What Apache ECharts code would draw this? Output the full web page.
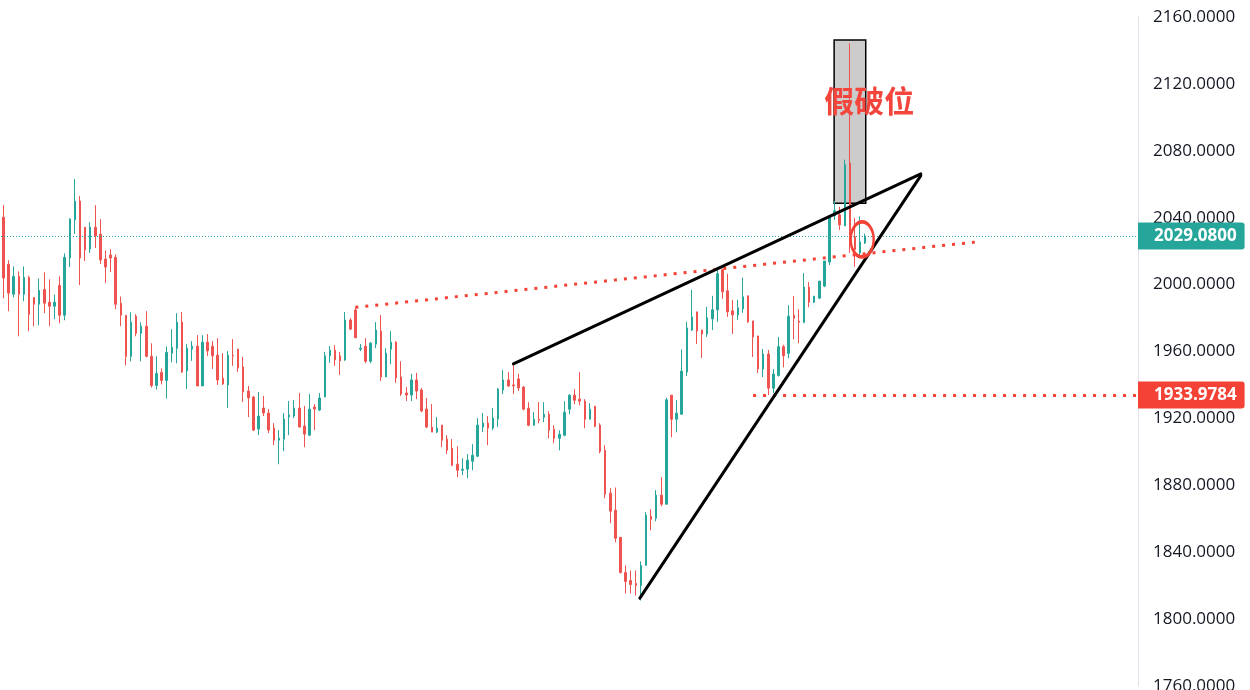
<!DOCTYPE html>
<html>
<head>
<meta charset="utf-8">
<title>XAUUSD 日线</title>
<script src="https://cdn.jsdelivr.net/npm/echarts@6/dist/echarts.min.js"></script>
<style>
  html, body { margin: 0; padding: 0; background: #ffffff; }
  #chart { width: 1250px; height: 690px; }
</style>
</head>
<body>
<div id="chart"></div>
<script>
// Daily OHLC, oldest first
const opens = [
  2040.3, 2012.1, 1994.3, 2004.9, 1994.3, 2004.3, 1992.3, 1988.3, 1997.1, 1989.5,
  1987.1, 1999.5, 1981.7, 2015.9, 2038.7, 2049.9, 2034.3, 2021.3, 2034.3, 2030.1,
  2015.3, 2017.7, 2016.3, 1988.9, 1981.7, 1957.1, 1981.1, 1970.9, 1975.1, 1957.1,
  1939.7, 1947.5, 1942.7, 1958.9, 1961.9, 1977.6, 1948.4, 1961.4, 1963.2, 1939.4,
  1965.6, 1963.2, 1957.8, 1944.0, 1940.0, 1957.8, 1961.4, 1950.8, 1936.4, 1932.8,
  1913.6, 1926.2, 1923.2, 1914.2, 1907.0, 1907.6, 1920.8, 1921.4, 1926.2, 1915.4,
  1910.0, 1926.8, 1925.0, 1932.8, 1957.4, 1960.8, 1957.4, 1955.0, 1978.8, 1984.8,
  1961.4, 1963.2, 1954.2, 1964.4, 1972.2, 1944.8, 1961.4, 1965.6, 1944.8, 1935.2,
  1934.0, 1943.0, 1937.0, 1925.6, 1914.8, 1911.8, 1916.0, 1907.6, 1902.2, 1892.6,
  1889.0, 1889.6, 1894.4, 1897.4, 1914.8, 1917.2, 1914.2, 1919.6, 1937.0, 1943.0,
  1940.0, 1943.6, 1938.7, 1926.1, 1915.9, 1919.5, 1920.7, 1922.5, 1913.5, 1908.1,
  1909.9, 1925.5, 1933.9, 1931.5, 1930.3, 1919.5, 1927.3, 1915.9, 1900.9, 1875.3,
  1865.1, 1848.9, 1827.9, 1823.1, 1821.3, 1820.1, 1832.1, 1861.5, 1860.3, 1874.1,
  1868.7, 1933.9, 1919.5, 1922.5, 1947.7, 1972.9, 1983.7, 1972.9, 1970.5, 1979.5,
  1984.9, 2008.9, 1996.3, 1984.3, 1981.9, 1985.5, 1993.3, 1978.3, 1969.3, 1949.5,
  1958.5, 1938.1, 1945.7, 1962.9, 1958.9, 1981.7, 1978.1, 1977.5, 1998.5, 1989.5,
  1991.9, 1999.1, 2013.5, 2041.1, 2041.7, 2035.1, 2072.7, 2028.6, 2018.9, 2024.9
];
const closes = [
  2003.9, 1994.9, 2004.9, 1994.3, 2004.3, 1982.3, 1988.3, 1996.5, 1988.9, 1987.1,
  1989.5, 1981.7, 2016.3, 2039.1, 2049.9, 2015.9, 2020.7, 2034.3, 2029.1, 2014.7,
  2010.5, 2015.9, 1988.3, 1981.7, 1957.1, 1977.5, 1970.9, 1975.1, 1957.1, 1939.7,
  1946.9, 1942.7, 1959.5, 1962.5, 1977.5, 1947.8, 1962.0, 1963.2, 1939.4, 1965.6,
  1960.4, 1957.4, 1943.0, 1940.6, 1957.8, 1957.4, 1950.2, 1935.8, 1932.2, 1913.0,
  1921.4, 1923.2, 1913.0, 1907.0, 1908.2, 1919.6, 1922.0, 1926.2, 1914.8, 1910.6,
  1925.6, 1925.6, 1932.2, 1957.4, 1960.8, 1955.0, 1954.4, 1978.8, 1973.4, 1968.2,
  1962.0, 1954.2, 1965.0, 1972.8, 1944.8, 1959.0, 1965.6, 1944.2, 1934.6, 1934.0,
  1943.0, 1936.4, 1924.4, 1914.8, 1911.8, 1914.2, 1907.0, 1901.0, 1892.0, 1889.0,
  1889.6, 1895.0, 1898.0, 1916.0, 1917.2, 1914.2, 1920.2, 1937.6, 1943.0, 1939.4,
  1939.4, 1938.2, 1925.5, 1915.9, 1919.5, 1918.9, 1922.5, 1912.9, 1908.1, 1910.5,
  1923.7, 1933.9, 1930.9, 1930.3, 1919.5, 1925.5, 1915.3, 1900.3, 1874.7, 1864.5,
  1848.3, 1827.9, 1822.5, 1820.7, 1820.1, 1832.1, 1862.1, 1859.7, 1874.1, 1868.7,
  1931.1, 1919.5, 1923.1, 1948.3, 1974.1, 1980.7, 1972.3, 1970.5, 1980.1, 1984.9,
  2006.5, 1995.7, 1983.7, 1981.9, 1986.1, 1992.7, 1977.7, 1968.7, 1949.5, 1958.5,
  1938.1, 1946.5, 1962.9, 1957.5, 1981.1, 1979.9, 1977.5, 1998.5, 1989.5, 1993.1,
  2002.1, 2014.1, 2041.1, 2044.1, 2035.7, 2071.7, 2029.5, 2021.0, 2025.5, 2029.08
];
const lows = [
  1991.9, 1984.1, 1992.3, 1969.1, 1990.1, 1972.1, 1975.1, 1975.7, 1982.9, 1975.1,
  1979.3, 1976.9, 1978.7, 2010.5, 2030.3, 1999.7, 2014.1, 2018.9, 2021.9, 2012.3,
  2000.9, 2007.5, 1985.3, 1975.1, 1951.7, 1954.1, 1969.1, 1954.1, 1956.5, 1938.5,
  1937.3, 1940.3, 1931.9, 1953.5, 1952.9, 1947.2, 1937.6, 1954.4, 1939.4, 1939.4,
  1957.4, 1949.6, 1940.0, 1940.0, 1926.2, 1951.4, 1947.8, 1929.8, 1920.8, 1912.4,
  1910.0, 1921.4, 1911.2, 1904.0, 1892.6, 1900.4, 1910.0, 1920.2, 1914.8, 1902.8,
  1909.4, 1913.0, 1924.4, 1932.8, 1953.2, 1951.4, 1946.0, 1954.4, 1972.8, 1968.2,
  1960.2, 1953.0, 1953.0, 1962.0, 1942.4, 1944.8, 1952.4, 1941.2, 1933.4, 1930.4,
  1930.4, 1931.6, 1923.8, 1914.2, 1911.8, 1911.2, 1902.8, 1898.6, 1891.4, 1884.8,
  1886.0, 1884.2, 1889.0, 1896.8, 1911.8, 1904.0, 1913.0, 1914.8, 1934.6, 1938.8,
  1934.6, 1936.4, 1924.9, 1915.3, 1915.9, 1917.1, 1917.7, 1908.1, 1905.1, 1900.9,
  1909.3, 1922.5, 1928.5, 1927.9, 1914.1, 1919.5, 1914.7, 1899.1, 1872.3, 1857.3,
  1845.9, 1827.3, 1815.3, 1815.3, 1814.1, 1811.1, 1832.1, 1853.1, 1858.5, 1867.5,
  1868.7, 1908.7, 1911.7, 1922.5, 1945.3, 1972.3, 1964.5, 1956.1, 1968.7, 1972.9,
  1977.7, 1991.5, 1980.7, 1970.5, 1978.9, 1983.1, 1977.1, 1956.7, 1947.1, 1944.7,
  1933.9784, 1935.1, 1945.0, 1950.5, 1955.9, 1967.3, 1964.9, 1976.9, 1986.5, 1988.9,
  1991.3, 1998.5, 2011.7, 2038.7, 2032.7, 2035.1, 2019.0, 2010.7, 2016.5, 2024.3
];
const highs = [
  2047.5, 2014.5, 2010.9, 2007.9, 2010.9, 2005.3, 1992.3, 2003.7, 2007.3, 2003.1,
  1994.1, 2004.9, 2018.7, 2039.7, 2063.1, 2052.9, 2034.3, 2037.3, 2047.5, 2039.1,
  2020.5, 2021.1, 2018.1, 1992.9, 1981.7, 1983.5, 1982.3, 1977.5, 1984.1, 1964.9,
  1957.1, 1949.9, 1963.1, 1973.3, 1982.9, 1983.6, 1964.4, 1966.2, 1969.8, 1969.8,
  1970.4, 1966.2, 1968.0, 1959.0, 1960.2, 1967.4, 1961.4, 1956.8, 1939.4, 1933.4,
  1935.8, 1933.4, 1925.6, 1917.2, 1913.0, 1923.2, 1930.4, 1931.0, 1935.2, 1927.4,
  1934.6, 1928.6, 1935.2, 1959.8, 1963.2, 1963.8, 1959.8, 1983.6, 1980.0, 1986.4,
  1964.4, 1968.0, 1965.6, 1977.6, 1981.8, 1962.0, 1972.2, 1966.2, 1954.2, 1938.8,
  1946.6, 1947.2, 1938.2, 1932.2, 1928.6, 1920.8, 1916.0, 1910.0, 1907.6, 1903.4,
  1896.2, 1898.6, 1904.6, 1920.2, 1923.2, 1921.4, 1926.2, 1938.2, 1949.0, 1947.8,
  1952.6, 1946.6, 1939.3, 1929.7, 1923.7, 1929.7, 1929.7, 1924.3, 1915.9, 1912.9,
  1930.3, 1934.5, 1937.5, 1947.7, 1931.5, 1929.1, 1927.3, 1917.1, 1903.9, 1878.3,
  1878.7, 1848.9, 1832.1, 1829.1, 1829.1, 1834.5, 1863.9, 1865.7, 1877.1, 1884.9,
  1932.3, 1933.9, 1930.9, 1961.3, 1977.7, 1996.9, 1983.7, 1972.9, 1986.7, 1993.3,
  2008.9, 2009.5, 2006.5, 1990.9, 1990.9, 2004.1, 1993.3, 1978.3, 1969.3, 1961.5,
  1960.9, 1949.5, 1968.7, 1964.0, 1987.7, 1993.1, 1985.3, 2006.9, 2001.5, 1993.1,
  2002.1, 2014.1, 2041.1, 2050.1, 2046.5, 2074.7, 2144.3, 2040.0, 2040.8, 2030.5
];

// Price scale ticks
const priceTicks = { min: 1760, max: 2160, step: 40 };

// Bar slots on the time axis (the right part is empty space ahead of the last bar)
const slotCount = 223;

// Drawing tools, as [bar index, price]
const wedgeUpper = [[100, 1952.6], [179.9, 2066.2]];
const wedgeLower = [[124.8, 1812.5], [179.9, 2065.2]];
const neckline = [[69, 1986.4], [190.5, 2025.4]];
const supportStart = 147;
const supportLevel = 1933.9784;
const fakeBreakBox = [[162.9, 2146.2], [169.1, 2048.6]];
const fakeBreakText = '假破位';
const fakeBreakTextAt = [169.8, 2109.9];
const retestCircleAt = [168.4, 2027.0];

const UP = '#26a69a';
const DOWN = '#ef5350';
const MARK_RED = '#f44336';

const candles = opens.map((o, i) => [i, o, closes[i], lows[i], highs[i]]);
const lastClose = closes[closes.length - 1];

const dotted = { color: MARK_RED, width: 3, type: [3, 7], cap: 'butt' };
const solid = { color: '#000000', width: 3, type: 'solid', cap: 'round' };
const priceTag = (bg) => ({
  show: true,
  position: 'end',
  distance: 0,
  color: '#ffffff',
  backgroundColor: bg,
  fontFamily: 'Open Sans',
  fontSize: 17,
  fontWeight: 'bold',
  lineHeight: 17,
  padding: [5, 8, 5, 16],
  borderRadius: [0, 3, 3, 0]
});

const chart = echarts.init(document.getElementById('chart'), null, { renderer: 'canvas' });

chart.setOption({
  animation: false,
  backgroundColor: '#ffffff',
  grid: { left: 1, right: 112, top: 17, bottom: 4, outerBoundsMode: 'none', containLabel: false },
  xAxis: {
    type: 'value',
    min: -0.5,
    max: slotCount - 0.5,
    show: false
  },
  yAxis: {
    type: 'value',
    position: 'right',
    min: priceTicks.min,
    max: priceTicks.max,
    interval: priceTicks.step,
    axisLine: { show: true, onZero: false, lineStyle: { color: '#e0e3eb', width: 1 } },
    axisTick: { show: false },
    splitLine: { show: false },
    axisLabel: {
      color: '#131722',
      fontFamily: 'Open Sans',
      fontSize: 17,
      margin: 15,
      formatter: (v) => v.toFixed(4)
    }
  },
  series: [{
    type: 'candlestick',
    data: candles,
    encode: { x: 0, y: [1, 2, 3, 4] },
    barWidth: 2,
    itemStyle: {
      color: UP,
      color0: DOWN,
      borderColor: UP,
      borderColor0: DOWN,
      borderWidth: 1
    },
    markArea: {
      silent: true,
      label: { show: false },
      itemStyle: { color: '#cccccc', borderColor: '#000000', borderWidth: 1.5 },
      data: [[{ coord: fakeBreakBox[0] }, { coord: fakeBreakBox[1] }]]
    },
    markLine: {
      silent: true,
      symbol: ['none', 'none'],
      label: { show: false },
      data: [
        { yAxis: lastClose,
          lineStyle: { color: UP, width: 1, type: [1, 2] },
          label: Object.assign(priceTag(UP), { formatter: () => lastClose.toFixed(4) }) },
        [{ coord: neckline[0], lineStyle: dotted }, { coord: neckline[1] }],
        [{ coord: [supportStart, supportLevel], lineStyle: dotted },
         { coord: [slotCount - 0.5, supportLevel],
           label: Object.assign(priceTag(MARK_RED), { formatter: () => supportLevel.toFixed(4) }) }],
        [{ coord: wedgeUpper[0], lineStyle: solid }, { coord: wedgeUpper[1] }],
        [{ coord: wedgeLower[0], lineStyle: solid }, { coord: wedgeLower[1] }]
      ]
    },
    markPoint: {
      silent: true,
      data: [
        { coord: retestCircleAt, symbol: 'circle', symbolSize: [23, 35],
          itemStyle: { color: 'rgba(0,0,0,0)', borderColor: MARK_RED, borderWidth: 3 },
          label: { show: false } },
        { coord: fakeBreakTextAt, symbol: 'circle', symbolSize: 0,
          label: {
            show: true, position: 'inside', formatter: fakeBreakText,
            color: '#f4453c', fontSize: 30, fontWeight: 'bold',
            fontFamily: '"Noto Sans CJK SC", sans-serif'
          } }
      ]
    }
  }]
});
</script>
</body>
</html>
